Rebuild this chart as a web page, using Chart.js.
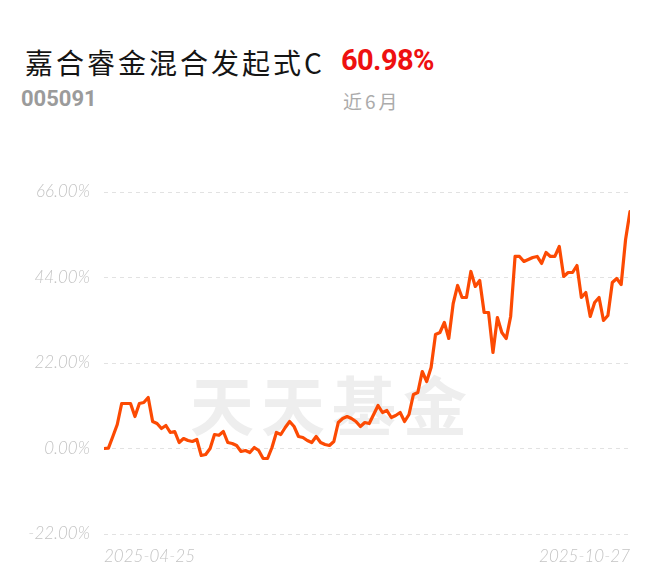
<!DOCTYPE html>
<html>
<head>
<meta charset="utf-8">
<script src="https://cdn.jsdelivr.net/npm/chart.js@4/dist/chart.umd.min.js"></script>
<style>
  html, body { margin: 0; padding: 0; background: #fff; }
  #wrap { position: relative; width: 660px; height: 585px; overflow: hidden; }
  #chart { position: absolute; left: 0; top: 0; z-index: 2; }
  .t { position: absolute; white-space: nowrap; line-height: 1; }
  #title { left: 25px; top: 42px; font: 400 28px "Noto Sans CJK SC", sans-serif; letter-spacing: 3px; color: #151515; }
  #ret { left: 341px; top: 43px; font: 700 29px Roboto, sans-serif; letter-spacing: -0.6px; color: #ee1010; }
  #code { left: 21px; top: 86px; font: 700 22px Roboto, sans-serif; color: #9b9b9b; }
  #period { left: 343px; top: 87px; font: 400 19px "Noto Sans CJK SC", sans-serif; letter-spacing: 3px; color: #ababab; }
  #wm { left: 190px; top: 356px; font: 700 64px "Noto Sans CJK SC", sans-serif; letter-spacing: 7px; color: #eeeeee; z-index: 1; }
</style>
</head>
<body>
<div id="wrap">
  <div class="t" id="title">嘉合睿金混合发起式C</div>
  <div class="t" id="ret">60.98%</div>
  <div class="t" id="code">005091</div>
  <div class="t" id="period">近6月</div>
  <div class="t" id="wm">天天基金</div>
  <canvas id="chart" width="660" height="585"></canvas>
</div>
<script>
// Tick labels
const xTickLabels = ['2025-04-25', '2025-10-27'];
const yTicks = [-22, 0, 22, 44, 66];

// Cumulative return (%) for each trading day
const returns = [
  0.00, 0.10, 3.09, 6.18, 11.58, 11.58, 11.58, 8.23, 11.58, 11.84,
  13.12, 6.95, 6.43, 5.15, 5.92, 4.12, 4.37, 1.54, 2.57, 2.06,
  1.80, 2.32, -1.80, -1.54, 0.00, 3.60, 3.40, 4.37, 1.54, 1.30,
  0.77, -0.77, -0.51, -1.03, 0.26, -0.51, -2.57, -2.57, 0.26, 4.12,
  3.60, 5.40, 6.95, 5.66, 3.09, 2.83, 2.06, 1.54, 3.09, 1.54,
  1.03, 0.77, 1.80, 6.69, 7.72, 8.23, 7.72, 6.95, 5.66, 6.69,
  6.43, 8.75, 11.07, 9.26, 9.78, 7.98, 8.49, 9.26, 6.95, 8.75,
  13.90, 14.41, 19.81, 17.24, 20.84, 29.34, 29.85, 32.42, 28.31, 37.31,
  41.95, 38.86, 38.86, 45.55, 41.69, 43.23, 35.00, 35.00, 24.70, 33.71,
  29.85, 28.31, 33.97, 49.41, 49.41, 48.12, 48.64, 49.15, 49.41, 47.61,
  50.44, 49.41, 49.41, 51.98, 44.26, 45.29, 45.29, 47.09, 38.86, 40.14,
  33.97, 37.57, 38.86, 32.94, 34.23, 42.72, 43.75, 42.20, 53.78, 60.98
];

const points = returns.map((v, i) => ({ x: i, y: v }));
const lastIndex = returns.length - 1;
const tickFont = { family: 'Lato, "Open Sans", sans-serif', size: 17, style: 'italic', weight: 300 };

new Chart(document.getElementById('chart'), {
  type: 'line',
  data: {
    datasets: [{
      data: points,
      borderColor: '#fc4a03',
      borderWidth: 3.2,
      pointRadius: 0,
      tension: 0,
      fill: false,
      borderJoinStyle: 'round',
      borderCapStyle: 'round'
    }]
  },
  options: {
    responsive: false,
    animation: false,
    devicePixelRatio: 1,
    layout: { padding: { top: 192, right: 30, left: 0, bottom: 0 } },
    plugins: { legend: { display: false }, tooltip: { enabled: false }, title: { display: false } },
    scales: {
      x: {
        type: 'linear',
        min: 0,
        max: lastIndex,
        grid: { display: false, drawTicks: false },
        border: { display: false },
        afterFit: s => { s.height = 51; },
        afterBuildTicks: s => { s.ticks = [{ value: 0 }, { value: lastIndex }]; },
        ticks: {
          autoSkip: false,
          maxRotation: 0,
          align: 'inner',
          padding: 12,
          color: '#c4c4c4',
          font: tickFont,
          callback: (v, i) => xTickLabels[i]
        }
      },
      y: {
        min: yTicks[0],
        max: yTicks[yTicks.length - 1],
        afterFit: s => { s.width = 104; },
        afterBuildTicks: s => { s.ticks = yTicks.map(v => ({ value: v })); },
        grid: { color: '#e2e2e2', lineWidth: 1, drawTicks: false },
        border: { display: false, dash: [4, 4] },
        ticks: {
          padding: 14,
          color: '#c4c4c4',
          font: tickFont,
          callback: v => v.toFixed(2) + '%'
        }
      }
    }
  }
});
</script>
</body>
</html>
